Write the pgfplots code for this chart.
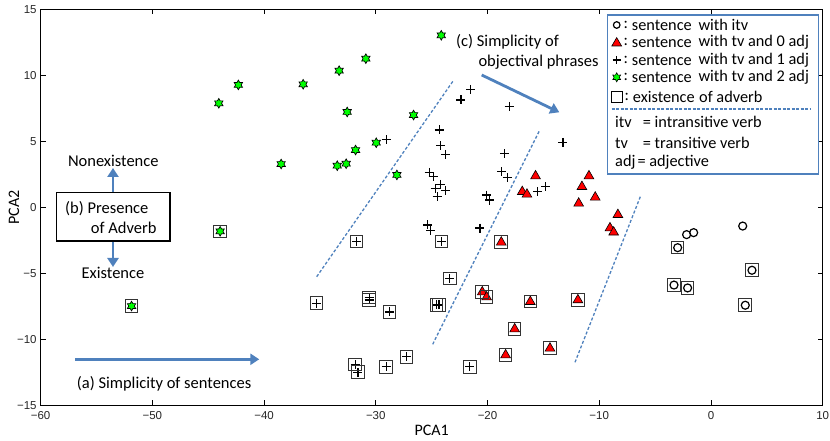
\documentclass[border=0pt]{standalone}
\usepackage{pgfplots}
\pgfplotsset{compat=1.18}
\usepackage{fontspec}
\setmainfont{Carlito}
\newfontfamily\tickfont{Liberation Sans}
\usetikzlibrary{shapes.geometric,arrows.meta}

\definecolor{annblue}{RGB}{79,129,189}
\definecolor{mkgreen}{RGB}{0,255,0}

% six-pointed star (points up and down)
\pgfdeclareplotmark{hexagram}{%
  \pgfpathmoveto{\pgfpointpolar{90}{\pgfplotmarksize}}%
  \pgfpathlineto{\pgfpointpolar{120}{0.577\pgfplotmarksize}}%
  \pgfpathlineto{\pgfpointpolar{150}{\pgfplotmarksize}}%
  \pgfpathlineto{\pgfpointpolar{180}{0.577\pgfplotmarksize}}%
  \pgfpathlineto{\pgfpointpolar{210}{\pgfplotmarksize}}%
  \pgfpathlineto{\pgfpointpolar{240}{0.577\pgfplotmarksize}}%
  \pgfpathlineto{\pgfpointpolar{270}{\pgfplotmarksize}}%
  \pgfpathlineto{\pgfpointpolar{300}{0.577\pgfplotmarksize}}%
  \pgfpathlineto{\pgfpointpolar{330}{\pgfplotmarksize}}%
  \pgfpathlineto{\pgfpointpolar{0}{0.577\pgfplotmarksize}}%
  \pgfpathlineto{\pgfpointpolar{30}{\pgfplotmarksize}}%
  \pgfpathlineto{\pgfpointpolar{60}{0.577\pgfplotmarksize}}%
  \pgfpathclose
  \pgfusepathqfillstroke
}

\newcommand\annfont{\fontsize{16.5}{19}\selectfont}
\newcommand\legfont{\fontsize{16.3}{18}\selectfont}

\begin{document}
\begin{tikzpicture}
\begin{axis}[
    scale only axis,
    width=782.1pt, height=396pt,
    xmin=-60, xmax=10, ymin=-15, ymax=15,
    xtick={-60,-50,...,10},
    xticklabels={−60,−50,−40,−30,−20,−10,0,10},
    ytick={-15,-10,...,15},
    yticklabels={−15,−10,−5,0,5,10,15},
    tick label style={font=\tickfont\fontsize{11.5}{13}\selectfont, text=black!85},
    xticklabel style={yshift=-2.5pt},
    yticklabel style={xshift=-0.5pt},
    tick align=inside,
    major tick length=5pt,
    tick style={black, line width=0.8pt},
    axis line style={line width=1.2pt},
    xlabel={PCA1}, ylabel={PCA2},
    label style={font=\fontsize{16}{18}\selectfont},
    xlabel style={at={(axis description cs:0.5,-0.0624)}, anchor=center},
    ylabel style={at={(axis description cs:-0.034,0.5)}, anchor=center},
    clip=false,
]
% sentences with itv
\addplot[only marks, mark=o, mark size=4pt, mark options={line width=1.2pt}]
  coordinates {(2.84,-1.42) (-2.18,-2.07) (-1.55,-1.92) (-2.98,-3.06)
               (3.67,-4.77) (-3.31,-5.89) (-2.09,-6.11) (3.07,-7.42)};
% tv and 0 adj
\addplot[only marks, mark=triangle*, mark size=5.6pt,
         mark options={fill=red, draw=black, line width=0.6pt}]
  coordinates {(-15.7,2.37) (-16.89,1.18) (-16.47,0.98) (-10.92,2.37)
               (-11.55,1.56) (-10.36,0.76) (-11.84,0.30) (-8.33,-0.56)
               (-9.04,-1.57) (-8.71,-1.89) (-18.77,-2.65) (-20.47,-6.42)
               (-20.08,-6.8) (-16.17,-7.15) (-11.91,-7.02) (-17.57,-9.22)
               (-14.41,-10.68) (-18.38,-11.19)};
% tv and 1 adj
\addplot[only marks, mark=+, mark size=4.5pt, mark options={line width=1.2pt}]
  coordinates {(-29.07,5.12) (-21.49,8.94) (-22.38,8.13) (-18.06,7.65)
               (-24.32,5.86) (-24.2,4.67) (-23.78,4.01) (-18.5,4.06)
               (-13.25,4.92) (-25.22,2.65) (-24.86,2.32) (-18.74,2.70)
               (-18.24,2.24) (-24.2,1.74) (-24.68,1.44) (-23.78,1.26)
               (-24.5,0.80) (-20.08,0.93) (-19.79,0.55) (-15.52,1.18)
               (-14.8,1.56) (-25.36,-1.34) (-25.07,-1.77) (-20.68,-1.57)
               (-31.72,-2.58) (-24.11,-2.58) (-23.37,-5.38) (-35.3,-7.27)
               (-30.59,-6.82) (-30.59,-7.02) (-28.77,-7.93) (-24.35,-7.40)
               (-24.56,-7.40) (-27.24,-11.32) (-29.07,-12.08) (-31.84,-11.92)
               (-31.6,-12.5) (-21.58,-12.08)};
% tv and 2 adj
\addplot[only marks, mark=hexagram, mark size=4.8pt,
         mark options={fill=mkgreen, draw=black, line width=0.7pt}]
  coordinates {(-42.3,9.27) (-36.5,9.32) (-44.05,7.88) (-38.47,3.28)
               (-24.14,13.03) (-30.89,11.26) (-33.28,10.35) (-32.56,7.22)
               (-26.62,6.99) (-29.96,4.89) (-31.81,4.34) (-32.65,3.30)
               (-33.45,3.15) (-28.11,2.45) (-43.93,-1.82) (-51.86,-7.48)};
% existence of adverb
\addplot[only marks, mark=square, mark size=6.3pt,
         mark options={draw=black!80, line width=1pt}]
  coordinates {(-2.98,-3.06) (3.67,-4.77) (-3.31,-5.89) (-2.09,-6.11) (3.07,-7.42)
               (-18.77,-2.65) (-20.47,-6.42) (-20.08,-6.8) (-16.17,-7.15)
               (-11.91,-7.02) (-17.57,-9.22) (-14.41,-10.68) (-18.38,-11.19)
               (-31.72,-2.58) (-24.11,-2.58) (-23.37,-5.38) (-35.3,-7.27)
               (-30.59,-6.82) (-30.59,-7.02) (-28.77,-7.93) (-24.35,-7.40)
               (-24.56,-7.40) (-27.24,-11.32) (-29.07,-12.08) (-31.84,-11.92)
               (-31.6,-12.5) (-21.58,-12.08) (-43.93,-1.82) (-51.86,-7.48)};
\end{axis}

% annotations, in picture pixels (origin at the top left corner)
\begin{scope}[x=1pt, y=-1pt, shift={(-40.6pt,405.3pt)}]
  % separating lines
  \begin{scope}[annblue, line width=1.3pt, dash pattern=on 3pt off 2pt]
    \draw (316.7,276.7) -- (453.3,80.7);
    \draw (432.7,344.3) -- (539.3,131);
    \draw (575,362.3) -- (641,195);
  \end{scope}
  % arrows
  \begin{scope}[annblue, line width=2.8pt, -{Triangle[length=9pt,width=11pt]}]
    \draw (75,359.3) -- (259.3,359.3);
    \draw (113,192.7) -- (113,168);
    \draw (113,241) -- (113,267);
    \draw (481.7,75) -- (559.3,112.3);
  \end{scope}
  \node[anchor=west, inner sep=0pt, font=\annfont] at (76.7,383.3) {(a) Simplicity of sentences};
  \draw[line width=1.4pt] (56.7,192.7) rectangle (170,241);
  \node[anchor=west, inner sep=0pt, font=\annfont] at (65,208.3) {(b) Presence};
  \node[anchor=west, inner sep=0pt, font=\annfont] at (90.7,228.3) {of Adverb};
  \node[inner sep=0pt, font=\annfont] at (113.3,161) {Nonexistence};
  \node[inner sep=0pt, font=\annfont] at (113,272.7) {Existence};
  \node[anchor=west, inner sep=0pt, font=\annfont] at (456,41.7) {(c) Simplicity of};
  \node[anchor=west, inner sep=0pt, font=\annfont] at (478.3,62.3) {objectival phrases};

  % legend
  \draw[annblue, line width=1.3pt, fill=white] (607.3,15) rectangle (818.3,174);
  \draw[line width=1.2pt] (616.7,25) circle (3.3);
  \draw[fill=red, line width=0.6pt] (616.7,37.6) -- (621.6,46) -- (611.8,46) -- cycle;
  \draw[line width=1.1pt] (612.5,60) -- (620.9,60) (616.7,55.8) -- (616.7,64.2);
  \node[star, star points=6, star point ratio=1.75, minimum size=9pt, inner sep=0pt,
        fill=mkgreen, draw=black, line width=0.6pt] at (616.7,77.3) {};
  \draw[line width=1.2pt] (611.2,91.8) rectangle (622.2,102.8);
  \foreach \yy in {25,42.3,60,77.3} {
    \node[anchor=west, inner sep=0pt, font=\legfont] at (623.5,\yy) {:};
    \node[anchor=west, inner sep=0pt, font=\legfont] at (631.7,\yy) {sentence};
  }
  \node[anchor=west, inner sep=0pt, font=\legfont] at (698.3,25) {with itv};
  \node[anchor=west, inner sep=0pt, font=\legfont] at (698.3,42.3) {with tv and 0 adj};
  \node[anchor=west, inner sep=0pt, font=\legfont] at (698.3,60) {with tv and 1 adj};
  \node[anchor=west, inner sep=0pt, font=\legfont] at (698.3,77.3) {with tv and 2 adj};
  \node[anchor=west, inner sep=0pt, font=\legfont] at (624.5,97.3) {:};
  \node[anchor=west, inner sep=0pt, font=\legfont] at (632.7,97.3) {existence};
  \node[anchor=west, inner sep=0pt, font=\legfont] at (699,97.3) {of adverb};
  \draw[annblue, line width=1.1pt, dash pattern=on 3pt off 1.5pt] (611.7,109) -- (810,109);
  \node[anchor=west, inner sep=0pt, font=\legfont] at (615,122.3) {itv};
  \node[anchor=west, inner sep=0pt, font=\legfont] at (642.7,122.3) {= intransitive verb};
  \node[anchor=west, inner sep=0pt, font=\legfont] at (615,143.3) {tv};
  \node[anchor=west, inner sep=0pt, font=\legfont] at (642.7,143.3) {= transitive verb};
  \node[anchor=west, inner sep=0pt, font=\legfont] at (615,162.3) {adj};
  \node[anchor=west, inner sep=0pt, font=\legfont] at (637.3,162.3) {= adjective};

  \pgfresetboundingbox
  \path[use as bounding box] (0,0) rectangle (830,441);
\end{scope}
\end{tikzpicture}
\end{document}
